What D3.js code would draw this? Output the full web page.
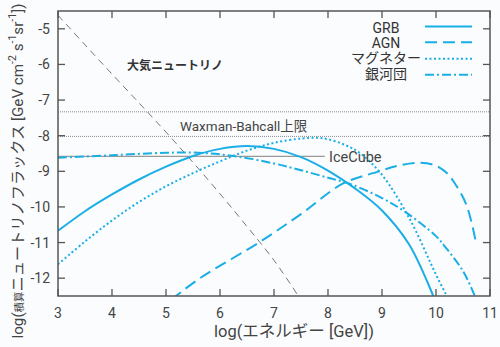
<!DOCTYPE html>
<html><head><meta charset="utf-8">
<script src="https://cdn.jsdelivr.net/npm/d3@7"></script>
<style>
html,body{margin:0;padding:0;background:#fbfcfe;}
svg{display:block;font-family:Roboto,"Noto Sans CJK JP",sans-serif;}
</style></head>
<body><svg id="c" width="500" height="347"></svg>
<script>
// ---- data (log10 E [GeV], log10 flux) ----
const xTicks = [3,4,5,6,7,8,9,10,11];
const yTicks = [-5,-6,-7,-8,-9,-10,-11,-12];
const seriesNames = ["GRB","AGN","マグネター","銀河団"];

const grbX = [3,3.5,4,4.5,5,5.5,6,6.5,7,7.5,8,8.5,9,9.5,9.95,10.05];
const grbY = [-10.67,-10.12,-9.65,-9.23,-8.87,-8.57,-8.37,-8.29,-8.37,-8.6,-8.98,-9.48,-10.1,-11.05,-12.5,-12.9];

const agnX = [5.1,5.63,6.74,7.5,8.28,8.93,9.3,9.67,9.98,10.2,10.35,10.57,10.75];
const agnY = [-12.6,-12.0,-10.98,-10.2,-9.34,-9.01,-8.84,-8.76,-8.83,-9.05,-9.34,-9.97,-11.07];

const magX = [3,3.5,4,4.5,5,5.5,6,6.5,7,7.5,7.8,8,8.3,8.6,9,9.5,10,10.2,10.3];
const magY = [-11.61,-10.97,-10.38,-9.86,-9.42,-9.05,-8.72,-8.42,-8.2,-8.08,-8.06,-8.1,-8.25,-8.5,-9.1,-10.3,-11.9,-12.5,-12.8];

const clusX = [3,4,5,5.6,6.25,7,7.5,8,8.4,9,9.43,10,10.17,10.5,10.72,10.8];
const clusY = [-8.62,-8.55,-8.48,-8.48,-8.57,-8.78,-8.97,-9.18,-9.35,-9.75,-10.14,-10.82,-11.12,-11.8,-12.5,-12.8];

const atmX = [3,3.5,4,4.5,5,5.5,6,6.5,7,7.45,7.55];
const atmY = [-4.62,-5.45,-6.27,-7.08,-7.9,-8.75,-9.63,-10.55,-11.5,-12.5,-12.75];

const wbLevels = [-7.33,-8.02];      // Waxman-Bahcall bounds
const iceCubeLevel = -8.58;
const iceCubeX = [3,7.94];

// ---- layout ----
const svg = d3.select("#c");
const L=58, R=490, T=11, B=296;
const x = d3.scaleLinear().domain([3,11]).range([L,R]);
const y = d3.scaleLinear().domain([-12.5,-4.5]).range([B,T]);
const blue = "#1aaee6";
const grayText = "#444";

svg.append("defs").append("clipPath").attr("id","clip")
  .append("rect").attr("x",L).attr("y",T).attr("width",R-L).attr("height",B-T);

const plot = svg.append("g").attr("clip-path","url(#clip)");
const line = d3.line().x(d=>x(d[0])).y(d=>y(d[1])).curve(d3.curveCatmullRom.alpha(0.5));
const zip = (a,b)=>a.map((v,i)=>[v,b[i]]);

// reference lines
wbLevels.forEach(v=>{
  plot.append("line").attr("x1",L).attr("x2",R).attr("y1",y(v)).attr("y2",y(v))
    .attr("stroke","#8a8a8a").attr("stroke-width",1).attr("stroke-dasharray","1,1");
});
plot.append("line").attr("x1",x(iceCubeX[0])).attr("x2",x(iceCubeX[1]))
  .attr("y1",y(iceCubeLevel)).attr("y2",y(iceCubeLevel))
  .attr("stroke","#999").attr("stroke-width",1.2);

plot.append("path").attr("d",line(zip(atmX,atmY))).attr("fill","none")
  .attr("stroke","#666").attr("stroke-width",0.9).attr("stroke-dasharray","7,5");

const styles = [
  {x:grbX,y:grbY,dash:null},
  {x:agnX,y:agnY,dash:"12,6"},
  {x:magX,y:magY,dash:"2,2.5"},
  {x:clusX,y:clusY,dash:"9,3,2,3"}
];
styles.forEach(s=>{
  plot.append("path").attr("d",line(zip(s.x,s.y))).attr("fill","none")
    .attr("stroke",blue).attr("stroke-width",2).attr("stroke-dasharray",s.dash);
});

// frame + ticks
const axisColor="#555";
svg.append("rect").attr("x",L).attr("y",T).attr("width",R-L).attr("height",B-T)
  .attr("fill","none").attr("stroke",axisColor).attr("stroke-width",1.5);
const tl=7;
xTicks.forEach(t=>{
  svg.append("line").attr("x1",x(t)).attr("x2",x(t)).attr("y1",B).attr("y2",B-tl).attr("stroke",axisColor).attr("stroke-width",1.3);
  svg.append("line").attr("x1",x(t)).attr("x2",x(t)).attr("y1",T).attr("y2",T+tl).attr("stroke",axisColor).attr("stroke-width",1.3);
  svg.append("text").attr("x",x(t)).attr("y",B+22).attr("text-anchor","middle")
    .attr("font-size",14).attr("fill",grayText).text(t);
});
yTicks.forEach(t=>{
  svg.append("line").attr("x1",L).attr("x2",L+tl).attr("y1",y(t)).attr("y2",y(t)).attr("stroke",axisColor).attr("stroke-width",1.3);
  svg.append("line").attr("x1",R).attr("x2",R-tl).attr("y1",y(t)).attr("y2",y(t)).attr("stroke",axisColor).attr("stroke-width",1.3);
  svg.append("text").attr("x",L-8).attr("y",y(t)+5).attr("text-anchor","end")
    .attr("font-size",14).attr("fill",grayText).text(t);
});

// axis labels
svg.append("text").attr("x",294).attr("y",337).attr("text-anchor","middle")
  .attr("font-size",16.5).attr("fill",grayText).text("log(エネルギー [GeV])");
const yl = svg.append("text").attr("transform","translate(23,171) rotate(-90)")
  .attr("text-anchor","middle").attr("font-size",15.2).attr("fill",grayText);
yl.append("tspan").text("log(");
yl.append("tspan").attr("font-size",10.5).text("積算");
yl.append("tspan").text("ニュートリノフラックス [GeV cm");
yl.append("tspan").attr("font-size",10.5).attr("dy",-7).text("-2");
yl.append("tspan").attr("dy",7).text(" s");
yl.append("tspan").attr("font-size",10.5).attr("dy",-7).text("-1");
yl.append("tspan").attr("dy",7).text("sr");
yl.append("tspan").attr("font-size",10.5).attr("dy",-7).text("-1");
yl.append("tspan").attr("dy",7).text("])");

// annotations
svg.append("text").attr("x",127).attr("y",70).attr("font-size",12).attr("font-weight","bold")
  .attr("fill","#333").text("大気ニュートリノ");
svg.append("text").attr("x",180).attr("y",131).attr("font-size",13.5)
  .attr("fill",grayText).text("Waxman-Bahcall上限");
svg.append("text").attr("x",329).attr("y",162).attr("font-size",14.5)
  .attr("fill",grayText).text("IceCube");

// legend
const legTextY=[32.5,47.5,63,78.5];
const legLineY=[26.5,42.3,58.7,74.7];
styles.forEach((s,i)=>{
  svg.append("text").attr("x",386).attr("y",legTextY[i]).attr("text-anchor","middle")
    .attr("font-size",14).attr("fill","#333").text(seriesNames[i]);
  svg.append("line").attr("x1",425).attr("x2",472).attr("y1",legLineY[i]).attr("y2",legLineY[i])
    .attr("stroke",blue).attr("stroke-width",2).attr("stroke-dasharray",s.dash);
});
</script></body></html>
